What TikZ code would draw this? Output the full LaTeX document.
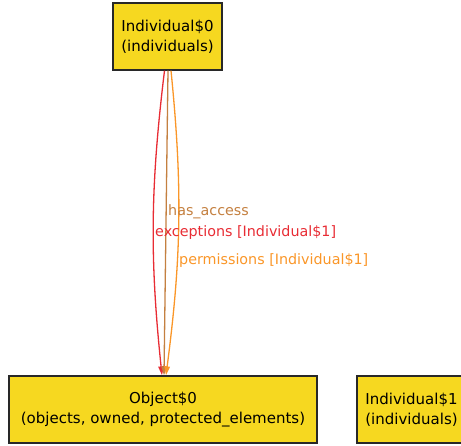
\documentclass[tikz,border=0pt]{standalone}
\usepackage{fontspec}
\setmainfont{DejaVu Sans}
\usetikzlibrary{arrows.meta}
\definecolor{boxfill}{RGB}{246,216,32}
\definecolor{boxline}{RGB}{40,40,40}
\definecolor{rededge}{RGB}{232,44,52}
\definecolor{brownedge}{RGB}{196,128,64}
\definecolor{orangeedge}{RGB}{250,150,40}
\tikzset{
  x=1pt, y=1pt,
  sigbox/.style={draw=boxline, line width=1.3pt, fill=boxfill, align=center,
    inner sep=0pt, minimum height=67pt,
    font=\fontsize{15}{20}\selectfont},
  rel/.style={line width=1.3pt},
  rellabel/.style={anchor=west, inner sep=0pt, font=\fontsize{14.3}{16}\selectfont}
}
\begin{document}
\begin{tikzpicture}
  \useasboundingbox (0,0) rectangle (461,-445);

  % signature boxes
  \node[sigbox, minimum width=109pt] (i0) at (167.5,-36.5) {Individual\$0\\(individuals)};
  \node[sigbox, minimum width=308pt] (o0) at (163,-409.5) {Object\$0\\(objects, owned, protected\_elements)};
  \node[sigbox, minimum width=109pt] (i1) at (411.5,-409.5) {Individual\$1\\(individuals)};

  % relations from Individual$0 to Object$0
  \draw[rel, draw=rededge, -{Triangle[length=9pt,width=5.5pt,fill=rededge]}]
    ([xshift=-3pt]i0.south) .. controls (150,-190) and (150,-260) .. ([xshift=-1pt]o0.north);
  \draw[rel, draw=brownedge, -{Triangle[length=9pt,width=5.5pt,fill=brownedge]}]
    ([xshift=0.5pt]i0.south) -- ([xshift=1pt]o0.north);
  \draw[rel, draw=orangeedge, -{Triangle[length=9pt,width=5.5pt,fill=orangeedge]}]
    ([xshift=3.5pt]i0.south) .. controls (183,-190) and (181,-260) .. ([xshift=3pt]o0.north);

  % relation labels
  \node[rellabel, text=brownedge] (lhas) at (168,-212) {has\_access};
  \node[rellabel, text=rededge] (lexc) at (155,-233) {exceptions [Individual\$1]};
  \node[rellabel, text=orangeedge] (lper) at (179,-261) {permissions [Individual\$1]};
\end{tikzpicture}
\end{document}
